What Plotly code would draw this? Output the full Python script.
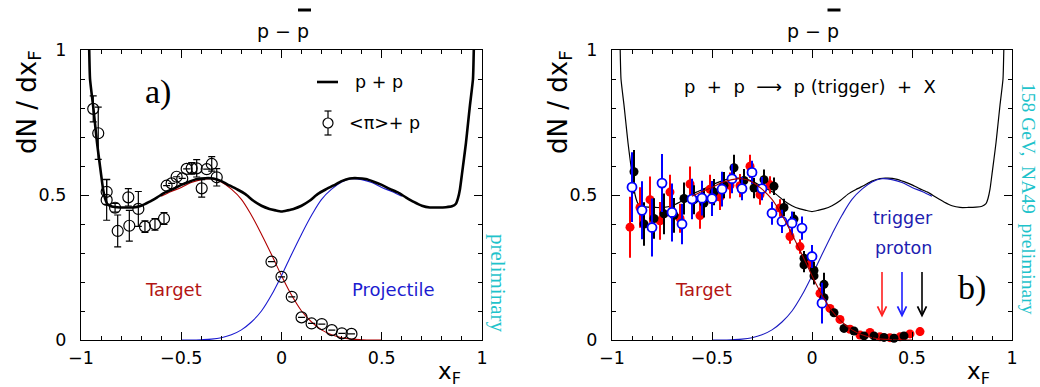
import plotly.graph_objects as go

# ---------------- data ----------------
# p+p net-proton (p - pbar) distribution, full xF range
curve_x = [-0.97, -0.96, -0.955, -0.94, -0.93, -0.92, -0.91, -0.90, -0.89, -0.88, -0.87, -0.85,
           -0.82, -0.78, -0.74, -0.70, -0.66, -0.62, -0.58, -0.54, -0.50, -0.46, -0.42, -0.38,
           -0.34, -0.30, -0.26, -0.22, -0.18, -0.14, -0.10, -0.06, -0.03, 0.0,
           0.03, 0.06, 0.10, 0.14, 0.18, 0.22, 0.26, 0.30, 0.34, 0.38, 0.42, 0.46, 0.50,
           0.54, 0.58, 0.62, 0.66, 0.70, 0.74, 0.78, 0.82, 0.85, 0.87, 0.88, 0.89, 0.90,
           0.91, 0.92, 0.93, 0.94, 0.955, 0.96, 0.97]
pp_curve = [1.30, 1.03, 0.90, 0.81, 0.745, 0.68, 0.625, 0.572, 0.52, 0.488, 0.47, 0.461,
            0.458, 0.457, 0.457, 0.463, 0.476, 0.492, 0.509, 0.521, 0.535, 0.546, 0.555, 0.558,
            0.557, 0.548, 0.533, 0.519, 0.503, 0.480, 0.463, 0.452, 0.447, 0.443,
            0.447, 0.452, 0.463, 0.480, 0.503, 0.519, 0.533, 0.548, 0.557, 0.558, 0.555, 0.546, 0.535,
            0.521, 0.509, 0.492, 0.476, 0.463, 0.457, 0.457, 0.458, 0.461, 0.47, 0.488, 0.52, 0.572,
            0.625, 0.68, 0.745, 0.81, 0.90, 1.03, 1.30]

# target and projectile components
target_x = [-0.60, -0.55, -0.50, -0.45, -0.40, -0.35, -0.30, -0.25, -0.20, -0.15, -0.10, -0.05,
            0.0, 0.05, 0.10, 0.15, 0.20, 0.25, 0.30, 0.35, 0.40, 0.45, 0.50]
target_curve = [0.496, 0.512, 0.526, 0.543, 0.553, 0.556, 0.545, 0.520, 0.485, 0.430, 0.365, 0.295,
                0.222, 0.155, 0.100, 0.062, 0.035, 0.018, 0.008, 0.003, 0.001, 0.0, 0.0]
proj_x = [-0.50, -0.45, -0.40, -0.35, -0.30, -0.25, -0.20, -0.15, -0.10, -0.05, 0.0,
          0.05, 0.10, 0.15, 0.20, 0.25, 0.30, 0.35, 0.40, 0.45, 0.50, 0.55, 0.60]
proj_curve = [0.0, 0.0, 0.001, 0.003, 0.008, 0.018, 0.035, 0.062, 0.100, 0.155, 0.222,
              0.295, 0.365, 0.430, 0.485, 0.520, 0.545, 0.556, 0.553, 0.543, 0.526, 0.512, 0.496]

# panel a: <pi> + p data
pi_x = [-0.939, -0.914, -0.872, -0.872, -0.830, -0.817, -0.764, -0.759, -0.714, -0.681, -0.631,
        -0.586, -0.573, -0.548, -0.523, -0.495, -0.473, -0.448, -0.423, -0.398, -0.373, -0.348,
        -0.323, -0.050, 0.0, 0.051, 0.100, 0.150, 0.201, 0.251, 0.301, 0.349]
pi_y = [0.797, 0.713, 0.511, 0.483, 0.456, 0.376, 0.492, 0.394, 0.452, 0.391, 0.399,
        0.419, 0.532, 0.540, 0.563, 0.557, 0.590, 0.592, 0.592, 0.523, 0.589, 0.607,
        0.561, 0.270, 0.218, 0.149, 0.078, 0.057, 0.055, 0.034, 0.023, 0.021]
pi_err = [0.045, 0.09, 0.043, 0.07, 0.015, 0.055, 0.03, 0.053, 0.06, 0.02, 0.02,
          0.02, 0.0, 0.0, 0.0, 0.0, 0.0, 0.02, 0.03, 0.03, 0.0, 0.025,
          0.03, 0.0, 0.0, 0.0, 0.0, 0.0, 0.0, 0.0, 0.0, 0.0]

# panel b: p + p -> p(trigger) + X, three trigger-proton bins
red_x = [-0.91, -0.86, -0.81, -0.76, -0.71, -0.66, -0.61, -0.56, -0.51, -0.46, -0.41, -0.36,
         -0.31, -0.26, -0.21, -0.16, -0.11, -0.06, -0.01, 0.04, 0.09, 0.14, 0.19, 0.24,
         0.29, 0.34, 0.39, 0.44, 0.49, 0.54]
red_y = [0.389, 0.457, 0.484, 0.411, 0.510, 0.420, 0.538, 0.429, 0.520, 0.493, 0.533, 0.532,
         0.599, 0.501, 0.535, 0.455, 0.357, 0.322, 0.265, 0.161, 0.109, 0.071, 0.037, 0.017,
         0.026, 0.011, 0.008, 0.011, 0.021, 0.029]
red_err = [0.105, 0.07, 0.08, 0.065, 0.06, 0.05, 0.06, 0.045, 0.05, 0.045, 0.045, 0.04,
           0.04, 0.035, 0.03, 0.03, 0.025, 0.025, 0.02, 0.02, 0.01, 0.008, 0.006, 0.005,
           0.005, 0.005, 0.005, 0.006, 0.008, 0.015]

black_x = [-0.89, -0.84, -0.79, -0.74, -0.69, -0.64, -0.59, -0.54, -0.49, -0.44, -0.39, -0.34,
           -0.29, -0.24, -0.19, -0.14, -0.09, -0.04, -0.04, 0.01, 0.01, 0.06, 0.06, 0.11,
           0.16, 0.21, 0.26, 0.31, 0.36, 0.41, 0.46]
black_y = [0.580, 0.400, 0.419, 0.435, 0.430, 0.488, 0.484, 0.472, 0.510, 0.534, 0.594, 0.550,
           0.524, 0.553, 0.530, 0.457, 0.417, 0.282, 0.259, 0.240, 0.221, 0.192, 0.146, 0.094,
           0.040, 0.031, 0.014, 0.014, 0.009, 0.006, 0.014]
black_err = [0.075, 0.075, 0.07, 0.07, 0.06, 0.055, 0.05, 0.05, 0.045, 0.045, 0.045, 0.04,
             0.035, 0.035, 0.03, 0.03, 0.025, 0.025, 0.025, 0.03, 0.03, 0.04, 0.03, 0.01,
             0.006, 0.005, 0.005, 0.005, 0.005, 0.005, 0.006]

blue_x = [-0.90, -0.85, -0.80, -0.75, -0.70, -0.65, -0.60, -0.55, -0.50, -0.45, -0.40, -0.35,
          -0.30, -0.25, -0.20, -0.15, -0.10, -0.05, 0.0, 0.05]
blue_y = [0.527, 0.447, 0.388, 0.541, 0.440, 0.400, 0.486, 0.489, 0.488, 0.520, 0.556, 0.522,
          0.578, 0.522, 0.437, 0.409, 0.403, 0.386, 0.288, 0.127]
blue_err = [0.12, 0.10, 0.10, 0.10, 0.10, 0.07, 0.07, 0.06, 0.06, 0.06, 0.05, 0.04,
            0.04, 0.04, 0.04, 0.04, 0.04, 0.04, 0.04, 0.07]

# trigger proton xF values (arrows)
trigger_x = [0.35, 0.45, 0.55]
arrow_top = 0.24
arrow_tip = 0.078

x_tickvals = [-1, -0.5, 0, 0.5, 1]
x_ticktext = ["\u22121", "\u22120.5", "0", "0.5", "1"]
y_tickvals = [0, 0.5, 1]
y_ticktext = ["0", "0.5", "1"]

# ---------------- figure ----------------
W, H = 1040, 387
SANS = "DejaVu Sans"
SERIF = "Liberation Serif"
CYAN = "#1fc3cb"


def px(x, y):
    return x / W, 1 - y / H


fig = go.Figure()

# panel a
fig.add_trace(go.Scatter(x=target_x, y=target_curve, mode="lines", line=dict(color="#b00000", width=1.1, shape="spline"),
                         xaxis="x", yaxis="y", showlegend=False))
fig.add_trace(go.Scatter(x=proj_x, y=proj_curve, mode="lines", line=dict(color="#1a1ad0", width=1.1, shape="spline"),
                         xaxis="x", yaxis="y", showlegend=False))
fig.add_trace(go.Scatter(x=curve_x, y=pp_curve, mode="lines", line=dict(color="black", width=2.6, shape="spline", smoothing=0.5),
                         xaxis="x", yaxis="y", showlegend=False))
fig.add_trace(go.Scatter(x=pi_x, y=pi_y, mode="markers",
                         marker=dict(symbol="circle-open", size=11, color="black", line=dict(width=1.2)),
                         error_y=dict(type="data", array=pi_err, visible=True, color="black", thickness=1.2, width=3.5),
                         xaxis="x", yaxis="y", showlegend=False, cliponaxis=False))

# panel b
fig.add_trace(go.Scatter(x=curve_x, y=pp_curve, mode="lines", line=dict(color="black", width=1.2, shape="spline", smoothing=0.5),
                         xaxis="x2", yaxis="y2", showlegend=False))
fig.add_trace(go.Scatter(x=proj_x, y=proj_curve, mode="lines", line=dict(color="#1a1ac0", width=1.1, shape="spline"),
                         xaxis="x2", yaxis="y2", showlegend=False))
fig.add_trace(go.Scatter(x=red_x, y=red_y, mode="markers",
                         marker=dict(symbol="circle", size=9, color="#ff0000"),
                         error_y=dict(type="data", array=red_err, visible=True, color="#ff0000", thickness=2, width=0),
                         xaxis="x2", yaxis="y2", showlegend=False, cliponaxis=False))
fig.add_trace(go.Scatter(x=black_x, y=black_y, mode="markers",
                         marker=dict(symbol="circle", size=9, color="black"),
                         error_y=dict(type="data", array=black_err, visible=True, color="black", thickness=2, width=0),
                         xaxis="x2", yaxis="y2", showlegend=False, cliponaxis=False))
fig.add_trace(go.Scatter(x=blue_x, y=blue_y, mode="markers",
                         marker=dict(symbol="circle", size=9, color="white", line=dict(color="#0000ff", width=1.8)),
                         error_y=dict(type="data", array=blue_err, visible=True, color="#0000ff", thickness=2, width=0),
                         xaxis="x2", yaxis="y2", showlegend=False, cliponaxis=False))
fig.add_trace(go.Scatter(x=target_x, y=target_curve, mode="lines", line=dict(color="#a00000", width=1.1, shape="spline"),
                         xaxis="x2", yaxis="y2", showlegend=False))

ydom = [1 - 340 / H, 1 - 50 / H]


def xax(dom):
    return dict(domain=dom, range=[-1, 1], showline=True, linecolor="black", linewidth=1.3, mirror="ticks",
                ticks="inside", ticklen=8, tickwidth=1.2, tickcolor="black", tickmode="array",
                tickvals=x_tickvals, ticktext=x_ticktext, showgrid=False, zeroline=False, automargin=False,
                tickfont=dict(family=SANS, size=17.5, color="black"), ticklabelstandoff=2,
                minor=dict(dtick=0.1, tick0=0, ticks="inside", ticklen=4, tickwidth=1, tickcolor="black", showgrid=False))


def yax(anchor):
    return dict(domain=ydom, range=[0, 1], anchor=anchor, showline=True, linecolor="black", linewidth=1.3, mirror="ticks",
                ticks="inside", ticklen=8, tickwidth=1.2, tickcolor="black", tickmode="array",
                tickvals=y_tickvals, ticktext=y_ticktext, showgrid=False, zeroline=False, automargin=False,
                tickfont=dict(family=SANS, size=17.5, color="black"), ticklabelstandoff=10,
                minor=dict(dtick=0.1, tick0=0, ticks="inside", ticklen=4, tickwidth=1, tickcolor="black", showgrid=False))


fig.update_layout(
    width=W, height=H, autosize=False,
    margin=dict(l=0, r=0, t=0, b=0, autoexpand=False),
    paper_bgcolor="white", plot_bgcolor="white",
    xaxis=dict(xax([81 / W, 482 / W]), anchor="y"),
    yaxis=yax("x"),
    xaxis2=dict(xax([612 / W, 1012 / W]), anchor="y2"),
    yaxis2=yax("x2"),
)

ann = []
shapes = []


def text(x, y, t, size, color="black", family=SANS, angle=0, xanchor="center", yanchor="middle"):
    X, Y = px(x, y)
    ann.append(dict(x=X, y=Y, xref="paper", yref="paper", text=t, showarrow=False, textangle=angle,
                    font=dict(family=family, size=size, color=color), xanchor=xanchor, yanchor=yanchor))


def seg(x0, y0, x1, y1, color="black", width=1.0):
    X0, Y0 = px(x0, y0)
    X1, Y1 = px(x1, y1)
    shapes.append(dict(type="line", x0=X0, y0=Y0, x1=X1, y1=Y1, xref="paper", yref="paper",
                       line=dict(color=color, width=width)))


# titles p - pbar
for cx in (283, 812.5):
    text(cx, 31, "p \u2212 p", 19)
    seg(cx + 15, 10, cx + 28, 10, width=3)

# y axis titles
for cx in (28, 559):
    text(cx, 48, "dN / dx<sub>F</sub>", 26, angle=-90, yanchor="top")
# x axis titles
for cx in (449, 978):
    text(cx, 373, "x<sub>F</sub>", 23)

# panel a labels
text(158, 92, "a)", 34, family=SERIF)
text(173.5, 289, "Target", 18, color="#b31414")
text(393.5, 289, "Projectile", 18, color="#1c1cd0")
text(498, 283, "preliminary", 21, color=CYAN, family=SERIF, angle=90)

# panel a legend
seg(317, 82, 338, 82, width=2.6)
text(353, 82, "p + p", 17.5, xanchor="left")
shapes.append(dict(type="circle", xref="paper", yref="paper",
                   x0=px(323, 0)[0], x1=px(333, 0)[0], y0=px(0, 118)[1], y1=px(0, 128)[1],
                   line=dict(color="black", width=1.2)))
seg(328, 111, 328, 118, width=1.2)
seg(328, 128, 328, 135, width=1.2)
seg(324.5, 111, 331.5, 111, width=1.2)
seg(324.5, 135, 331.5, 135, width=1.2)
text(347, 123, "&lt;\u03c0&gt;+ p", 17.5, xanchor="left")

# panel b labels
text(810, 87, "p  +  p  \u27f6  p (trigger)  +  X", 18)
text(903, 218, "trigger", 17.5, color="#2020b0")
text(903, 248, "proton", 17.5, color="#2020b0")
text(703.5, 289, "Target", 18, color="#b31414")
text(972, 288, "b)", 34, family=SERIF)
text(1029, 199, "158 GeV,  NA49  preliminary", 19.5, color=CYAN, family=SERIF, angle=90)

# trigger arrows
for xv, col in zip(trigger_x, ["#ff2020", "#2020ff", "black"]):
    ann.append(dict(x=xv, y=arrow_tip, ax=xv, ay=arrow_top, xref="x2", yref="y2", axref="x2", ayref="y2",
                    showarrow=True, arrowhead=5, arrowsize=1.1, arrowwidth=1.6, arrowcolor=col, text=""))

fig.update_layout(annotations=ann, shapes=shapes)
fig.write_html("out.html")
